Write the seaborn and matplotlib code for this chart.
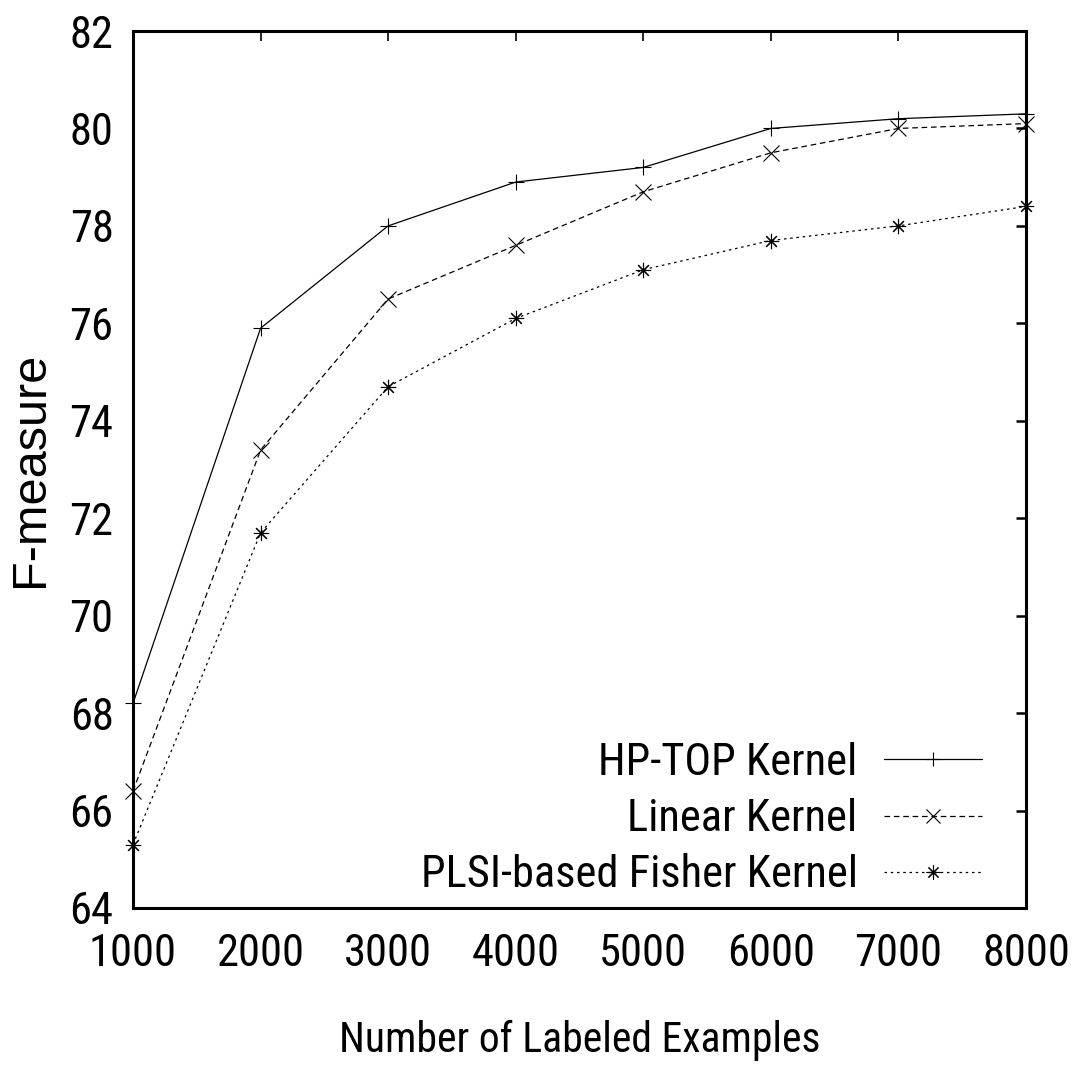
import matplotlib
matplotlib.use("Agg")
import matplotlib.pyplot as plt
from matplotlib import font_manager
import seaborn as sns
import pandas as pd

# ---- data ----
examples = [1000, 2000, 3000, 4000, 5000, 6000, 7000, 8000]
hp_top = [68.2, 75.9, 78.0, 78.9, 79.2, 80.0, 80.2, 80.3]
linear = [66.4, 73.4, 76.5, 77.6, 78.7, 79.5, 80.0, 80.1]
plsi_fisher = [65.3, 71.7, 74.7, 76.1, 77.1, 77.7, 78.0, 78.4]
series_names = ["HP-TOP Kernel", "Linear Kernel", "PLSI-based Fisher Kernel"]
x_ticks = [1000, 2000, 3000, 4000, 5000, 6000, 7000, 8000]
y_ticks = [64, 66, 68, 70, 72, 74, 76, 78, 80, 82]

df = pd.concat([
    pd.DataFrame({"x": examples, "y": vals, "series": name})
    for name, vals in zip(series_names, [hp_top, linear, plsi_fisher])
], ignore_index=True)

sns.set_theme(style="white")
plt.rcParams.update({"text.color": "black", "axes.labelcolor": "black",
                     "xtick.color": "black", "ytick.color": "black"})

names = sorted({f.name for f in font_manager.fontManager.ttflist})
narrow = None
for cand in ["Liberation Sans Narrow", "Arial Narrow", "Nimbus Sans Narrow",
             "Roboto Condensed", "Open Sans Condensed", "Noto Sans Display"]:
    if cand in names:
        narrow = cand
        break
if narrow is None:
    for n in names:
        if ("Narrow" in n or "Condensed" in n) and "Serif" not in n and "Mono" not in n:
            narrow = n
            break
regular = "Liberation Sans" if "Liberation Sans" in names else "DejaVu Sans"
if narrow is None:
    narrow = regular
    tick_size = 28
else:
    tick_size = 32
plt.rcParams["font.family"] = [narrow, "DejaVu Sans"]

fig = plt.figure(figsize=(10.73, 10.68), dpi=100)
ax = fig.add_axes([133 / 1073, 1 - 908 / 1068, (1026 - 133) / 1073, (908 - 31) / 1068])

markers = {series_names[0]: "+", series_names[1]: "x", series_names[2]: (8, 2, 0)}
dashes = {series_names[0]: "", series_names[1]: (4.5, 3), series_names[2]: (2, 3)}
palette = {n: "black" for n in series_names}

sns.lineplot(data=df, x="x", y="y", hue="series", style="series",
             markers=markers, dashes=dashes, palette=palette,
             linewidth=0.9, markersize=11, markeredgewidth=0.8,
             markeredgecolor="black",
             ax=ax, legend=True, clip_on=False)

ax.set_xlim(1000, 8000)
ax.set_ylim(64, 82)
ax.set_xticks(x_ticks)
ax.set_yticks(y_ticks)
ax.set_xticklabels([str(v) for v in x_ticks], fontsize=tick_size, family=narrow)
ax.set_yticklabels([str(v) for v in y_ticks], fontsize=tick_size, family=narrow)
ax.tick_params(axis="both", direction="in", length=7, width=1.2,
               top=True, right=True, colors="black")
ax.tick_params(axis="y", pad=14, width=1.8)
ax.tick_params(axis="x", pad=18)
for s in ax.spines.values():
    s.set_visible(True)
    s.set_linewidth(2.2)
    s.set_color("black")

ax.set_xlabel("Number of Labeled Examples", fontsize=tick_size - 2, family=narrow, labelpad=32)
ax.set_ylabel("F-measure", fontsize=35, family=regular, labelpad=12)

handles, labels = ax.get_legend_handles_labels()
for h in handles:
    h.set_markeredgecolor("black")
    h.set_markersize(10)
leg = ax.legend(handles, labels, loc="upper right",
                bbox_to_anchor=((982 - 133) / 893, (908 - 742) / 877),
                frameon=False, markerfirst=False,
                handlelength=2.2, handletextpad=0.6, labelspacing=0.32,
                borderaxespad=0, borderpad=0, prop={"family": narrow, "size": tick_size})
leg._legend_box.align = "right"

fig.savefig("out.png", dpi=100)
